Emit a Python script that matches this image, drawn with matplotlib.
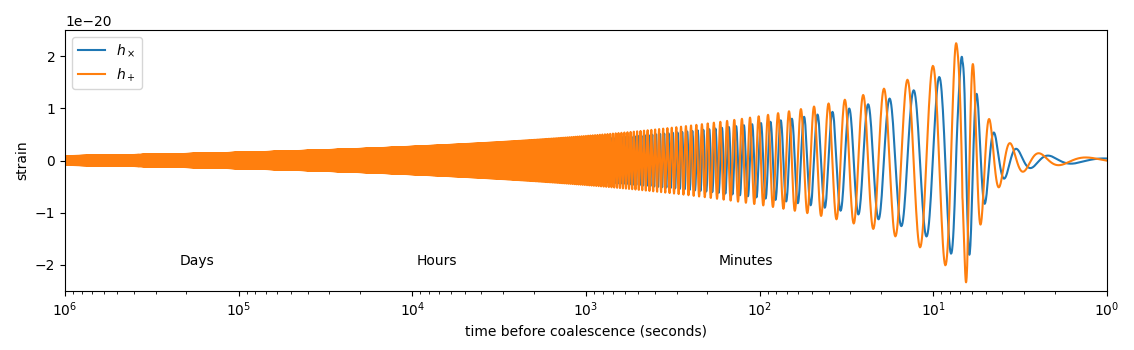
import numpy as np
import matplotlib
matplotlib.use('Agg')
import matplotlib.pyplot as plt

# values (strain in units of 1e-20)
# orange (h+) peak heights near coalescence, used to fix the chirp envelope
chirp_amp = 2.65          # envelope scale, A = chirp_amp * (tau - chirp_shift)^(-1/4)
chirp_shift = 5.5         # seconds
cycle_scale = 1.37        # cycles = (tau - phase_shift)^(5/8) / cycle_scale
phase_shift = 6.8         # seconds
phase_offset = 0.53       # cycles
ring_peak_time = 5.9      # first ringdown peak of h+ (seconds)
ring_peak_amp = 1.88
ring_period = 1.15        # seconds
ring_decay = 1.32         # seconds
cross_ratio = 0.84        # h_x amplitude relative to h+
blend_lo, blend_hi = 6.5, 7.4

labels = ['Days', 'Hours', 'Minutes']
label_times = [2 * 86400, 2 * 3600, 2 * 60]


def waveform():
    # time grid: linear near merger, one point every 1/40 cycle in the inspiral
    n_cycles = (1e6 - phase_shift) ** 0.625 / cycle_scale
    c = np.linspace(0, n_cycles - phase_offset, int(n_cycles * 40))
    tau_chirp = phase_shift + (cycle_scale * (c + phase_offset)) ** 1.6
    tau = np.unique(np.concatenate([np.linspace(1, blend_hi, 4000), tau_chirp]))
    tau = tau[(tau >= 1) & (tau <= 1e6)]

    # phase in cycles: chirp far out, constant frequency ringdown, blended
    chirp_c = np.maximum(tau - phase_shift, 0) ** 0.625 / cycle_scale - phase_offset
    ring_c = -1 - (ring_peak_time - tau) / ring_period
    s = np.clip((tau - blend_lo) / (blend_hi - blend_lo), 0, 1)
    w = s * s * (3 - 2 * s)
    cycles = w * chirp_c + (1 - w) * ring_c

    # envelope: soft minimum of inspiral growth and ringdown decay
    a_chirp = chirp_amp * np.maximum(tau - chirp_shift, 1e-4) ** -0.25
    a_ring = ring_peak_amp * np.exp((tau - ring_peak_time) / ring_decay)
    amp = (a_chirp ** -4 + a_ring ** -4) ** -0.25

    h_plus = amp * np.cos(2 * np.pi * cycles) * 1e-20
    h_cross = cross_ratio * amp * np.cos(2 * np.pi * (cycles + 0.25)) * 1e-20
    return tau, h_plus, h_cross


def main() -> None:
    tau, h_plus, h_cross = waveform()

    fig = plt.figure(figsize=(11.34, 3.5), dpi=100)
    ax = fig.add_axes([65 / 1134, 59 / 350, 1042 / 1134, 261 / 350])
    ax.plot(tau, h_cross, label=r'$h_\times$')
    ax.plot(tau, h_plus, label=r'$h_+$')
    ax.set_xscale('log')
    ax.set_xlim(1e6, 1)
    ax.set_ylim(-2.5e-20, 2.5e-20)
    ax.set_xlabel('time before coalescence (seconds)')
    ax.set_ylabel('strain')
    ax.legend(loc='upper left')

    # time scale labels
    for name, t in zip(labels, label_times):
        ax.text(t, -2e-20, name, ha='center')

    fig.savefig('out.png', dpi=100)


if __name__ == '__main__':
    main()
